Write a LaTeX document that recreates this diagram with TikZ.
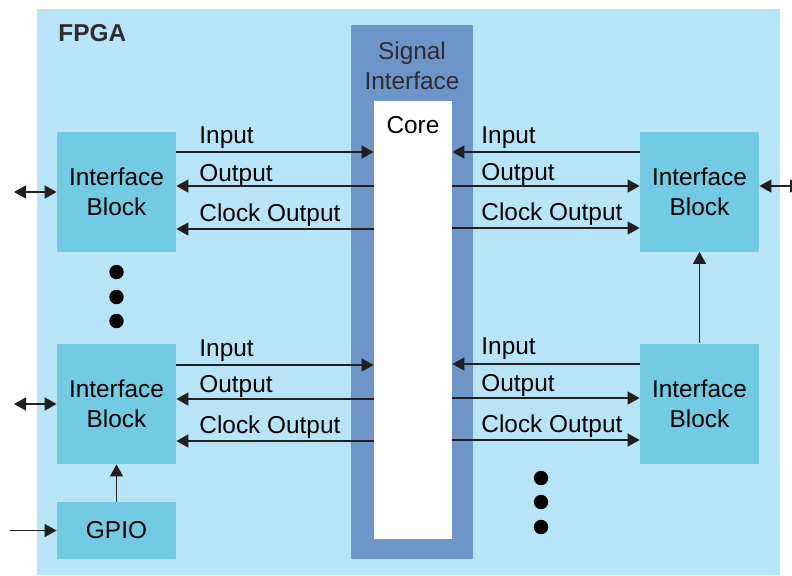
\documentclass[tikz,border=0pt]{standalone}
\usepackage{fontspec}
\setmainfont{Liberation Sans}
\definecolor{fpgablue}{RGB}{183, 228, 247}
\definecolor{blockcyan}{RGB}{115, 203, 227}
\definecolor{sigblue}{RGB}{109, 149, 200}
\definecolor{arrowgray}{RGB}{35, 31, 32}
\definecolor{labelgray}{RGB}{45, 45, 50}
\usetikzlibrary{arrows.meta, positioning}
\tikzset{
  txt/.style={font=\fontsize{12.2}{15}\selectfont},
  ifblock/.style={txt, fill=blockcyan, minimum width=59.5pt, minimum height=60pt, align=center, inner sep=0pt},
  sig/.style={draw=arrowgray, line width=0.65pt, -{Triangle[length=6pt, width=6.5pt]}},
  sigboth/.style={sig, {Triangle[length=6pt, width=6.5pt]}-{Triangle[length=6pt, width=6.5pt]}},
  siglabel/.style={txt, anchor=base west, inner sep=0pt},
}

\begin{document}
\begin{tikzpicture}[x=0.5pt, y=-0.5pt]
  \useasboundingbox (0,0) rectangle (792,575);

  % FPGA area
  \node[fill=fpgablue, minimum width=371.5pt, minimum height=283pt, inner sep=0pt] (fpga) at (408.5,292) {};
  \node[txt, font=\fontsize{12.2}{15}\selectfont\bfseries, text=labelgray, anchor=base west, inner sep=0pt] (fpgaTxt) at (58,41) {FPGA};

  % Signal interface and core
  \node[fill=sigblue, minimum width=61pt, minimum height=267pt, inner sep=0pt] (sigIf) at (412,292) {};
  \node[txt, text=labelgray, align=center, inner sep=0pt] (sigTxt) at (412,66) {Signal\\Interface};
  \node[fill=white, minimum width=39pt, minimum height=219pt, inner sep=0pt] (core) at (413,320) {};
  \node[txt, anchor=base, inner sep=0pt] (coreTxt) at (413,133) {Core};

  % Interface blocks
  \node[ifblock] (ifLeftA) at (116.5,192) {Interface\\Block};
  \node[ifblock] (ifLeftB) at (116.5,404) {Interface\\Block};
  \node[ifblock, minimum height=28.5pt] (gpio) at (116.5,530.5) {GPIO};
  \node[ifblock] (ifRightA) at (699.5,191.5) {Interface\\Block};
  \node[ifblock] (ifRightB) at (699.5,403.5) {Interface\\Block};

  % Free ends
  \coordinate (leftOutA) at (14,192);
  \coordinate (leftOutB) at (14,404);
  \coordinate (gpioIn) at (10,530.5);
  \coordinate (rightOut) at (802,186);

  % Left upper signals
  \draw[sig] (ifLeftA.east |- 0,152) -- (core.west |- 0,152);
  \draw[sig] (core.west |- 0,186) -- (ifLeftA.east |- 0,186);
  \draw[sig] (core.west |- 0,229) -- (ifLeftA.east |- 0,229);
  \node[siglabel] (inLA) at (199,143) {Input};
  \node[siglabel] (outLA) at (199,181) {Output};
  \node[siglabel] (clkLA) at (199,221) {Clock Output};

  % Left lower signals
  \draw[sig] (ifLeftB.east |- 0,365) -- (core.west |- 0,365);
  \draw[sig] (core.west |- 0,399) -- (ifLeftB.east |- 0,399);
  \draw[sig] (core.west |- 0,441) -- (ifLeftB.east |- 0,441);
  \node[siglabel] (inLB) at (199,356) {Input};
  \node[siglabel] (outLB) at (199,392) {Output};
  \node[siglabel] (clkLB) at (199,433) {Clock Output};

  % Right upper signals
  \draw[sig] (ifRightA.west |- 0,152) -- (core.east |- 0,152);
  \draw[sig] (core.east |- 0,186) -- (ifRightA.west |- 0,186);
  \draw[sig] (core.east |- 0,228) -- (ifRightA.west |- 0,228);
  \node[siglabel] (inRA) at (481,143) {Input};
  \node[siglabel] (outRA) at (481,180) {Output};
  \node[siglabel] (clkRA) at (481,220) {Clock Output};

  % Right lower signals
  \draw[sig] (ifRightB.west |- 0,364) -- (core.east |- 0,364);
  \draw[sig] (core.east |- 0,398) -- (ifRightB.west |- 0,398);
  \draw[sig] (core.east |- 0,440) -- (ifRightB.west |- 0,440);
  \node[siglabel] (inRB) at (481,354) {Input};
  \node[siglabel] (outRB) at (481,391) {Output};
  \node[siglabel] (clkRB) at (481,432) {Clock Output};

  % Outside links
  \draw[sigboth] (leftOutA) -- (ifLeftA.west);
  \draw[sigboth] (leftOutB) -- (ifLeftB.west);
  \draw[sig] (gpioIn) -- (gpio.west);
  \draw[sig] (gpio.north) -- (ifLeftB.south);
  \draw[sig] (ifRightB.north) -- (ifRightA.south);
  \draw[sigboth] (ifRightA.east |- rightOut) -- (rightOut);

  % Dots
  \fill (116.5,272) circle (3.6pt);
  \fill (116.5,297) circle (3.6pt);
  \fill (116.5,321) circle (3.6pt);
  \fill (541,478) circle (3.6pt);
  \fill (541,502) circle (3.6pt);
  \fill (541,527) circle (3.6pt);
\end{tikzpicture}
\end{document}
